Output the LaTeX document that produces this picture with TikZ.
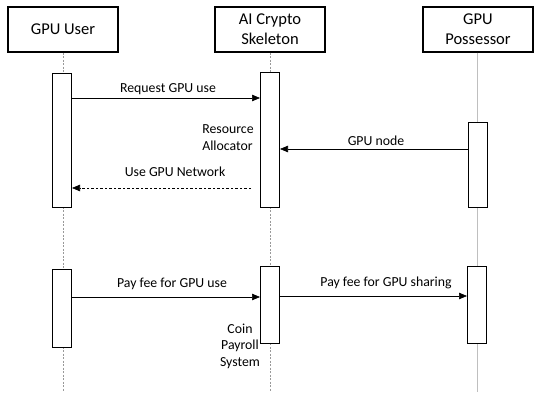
\documentclass[tikz,border=0pt]{standalone}
\usepackage{fontspec}
\setmainfont{Carlito}
\usetikzlibrary{arrows.meta}
\begin{document}
\begin{tikzpicture}[x=1pt,y=-1pt,
  head/.style={draw, line width=1.1pt, minimum width=110pt, minimum height=45pt, align=center, inner sep=0pt, font=\fontsize{16.5}{20}\selectfont},
  act/.style={draw, line width=1pt, fill=white, minimum width=19pt, inner sep=0pt},
  msg/.style={-{Triangle[length=8pt,width=6.5pt]}, line width=0.6pt},
  rep/.style={msg, dash pattern=on 2.5pt off 2pt},
  lbl/.style={font=\fontsize{13.8}{16}\selectfont, inner sep=0pt},
  life/.style={draw=gray!80, dash pattern=on 2pt off 1.5pt, line width=0.6pt},
  lifesolid/.style={draw=gray!50, line width=1pt},
]
\useasboundingbox (0,0) rectangle (536,403);
% headers
\node[head] (user) at (63,29.5) {GPU User};
\node[head] (ai) at (270,29.5) {AI Crypto\\Skeleton};
\node[head] (poss) at (478,29.5) {GPU\\Possessor};
% lifeline ends
\coordinate (uend) at (63,392);
\coordinate (aend) at (270,392);
\coordinate (pend) at (477,392);
\draw[life] (user.south) -- (uend);
\draw[life] (ai.south) -- (aend);
\draw[lifesolid] (poss.south -| pend) -- (pend);
% activations
\node[act, minimum height=134pt] (u1) at (62,141) {};
\node[act, minimum height=135pt] (a1) at (270,140.5) {};
\node[act, minimum height=85pt] (p1) at (478,165.5) {};
\node[act, minimum height=78pt] (u2) at (62,309) {};
\node[act, minimum height=77pt] (a2) at (270,305.5) {};
\node[act, minimum height=77pt] (p2) at (477,305.5) {};
% messages
\draw[msg] (u1.east |- 0,98) -- (a1.west |- 0,98);
\node[lbl] (l1) at (168,89) {Request GPU use};
\draw[msg] (p1.west |- 0,149) -- (a1.east |- 0,149);
\node[lbl] (l2) at (376,141) {GPU node};
\coordinate (n0) at (251,188);
\draw[rep] (n0) -- (u1.east |- n0);
\node[lbl] (l3) at (175,172) {Use GPU Network};
\node[lbl, align=left, font=\fontsize{13.8}{17}\selectfont] (ra) at (228,137.5) {Resource\\Allocator};
\draw[msg] (u2.east |- 0,297) -- (a2.west |- 0,297);
\node[lbl] (l4) at (172,284) {Pay fee for GPU use};
\draw[msg] (a2.east |- 0,296) -- (p2.west |- 0,296);
\node[lbl] (l5) at (386,283) {Pay fee for GPU sharing};
\node[lbl, align=center, font=\fontsize{13.8}{16.5}\selectfont] (cp) at (240,346) {Coin\\Payroll\\System};
\end{tikzpicture}
\end{document}
